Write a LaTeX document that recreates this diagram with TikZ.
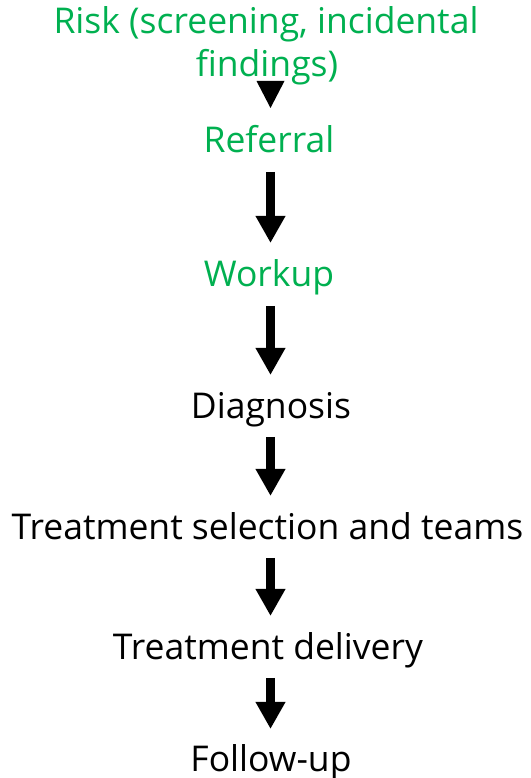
\documentclass[tikz,border=0pt]{standalone}
\usepackage{fontspec}
\setmainfont{Open Sans}
\usetikzlibrary{arrows.meta,calc}
\definecolor{stepgreen}{HTML}{00B050}
\tikzset{
  lbl/.style={anchor=base, inner sep=0pt, font=\fontsize{35.5}{43}\selectfont},
  grn/.style={lbl, text=stepgreen},
  blk/.style={lbl, text=black},
  blockarrow/.style={draw=black, line width=9pt, line cap=butt,
    -{Triangle[width=28pt,length=27pt]}}
}
\begin{document}
\begin{tikzpicture}[x=1pt,y=1pt]
\useasboundingbox (0,0) rectangle (530,778);
\fill[white] (0,0) rectangle (530,778);
% arrows first so text overlaps
\coordinate (a1s) at (270.5,{778-81});
\coordinate (a1e) at (270.5,{778-108});
\coordinate (a2s) at (270.5,{778-172});
\coordinate (a2e) at (270.5,{778-243});
\coordinate (a3s) at (270.5,{778-306});
\coordinate (a3e) at (270.5,{778-375});
\coordinate (a4s) at (270.5,{778-437});
\coordinate (a4e) at (270.5,{778-496});
\coordinate (a5s) at (270.5,{778-558});
\coordinate (a5e) at (270.5,{778-616});
\coordinate (a6s) at (270.5,{778-678});
\coordinate (a6e) at (270.5,{778-729});
\fill[black] ($(a1s)+(-14,0)$) -- ($(a1s)+(14,0)$) -- (a1e) -- cycle;
\draw[blockarrow] (a2s) -- (a2e);
\draw[blockarrow] (a3s) -- (a3e);
\draw[blockarrow] (a4s) -- (a4e);
\draw[blockarrow] (a5s) -- (a5e);
\draw[blockarrow] (a6s) -- (a6e);
% labels
\node[grn] (risk1) at (266,{778-34}) {Risk (screening, incidental};
\node[grn] (risk2) at (267,{778-77}) {findings)};
\node[grn] (referral) at (269,{778-153}) {Referral};
\node[grn] (workup) at (269,{778-287}) {Workup};
\node[blk] (diag) at (271,{778-419}) {Diagnosis};
\node[blk] (tsel) at (267.5,{778-540}) {Treatment selection and teams};
\node[blk] (tdel) at (268,{778-660}) {Treatment delivery};
\node[blk] (fup) at (271,{778-772}) {Follow-up};
\end{tikzpicture}
\end{document}
